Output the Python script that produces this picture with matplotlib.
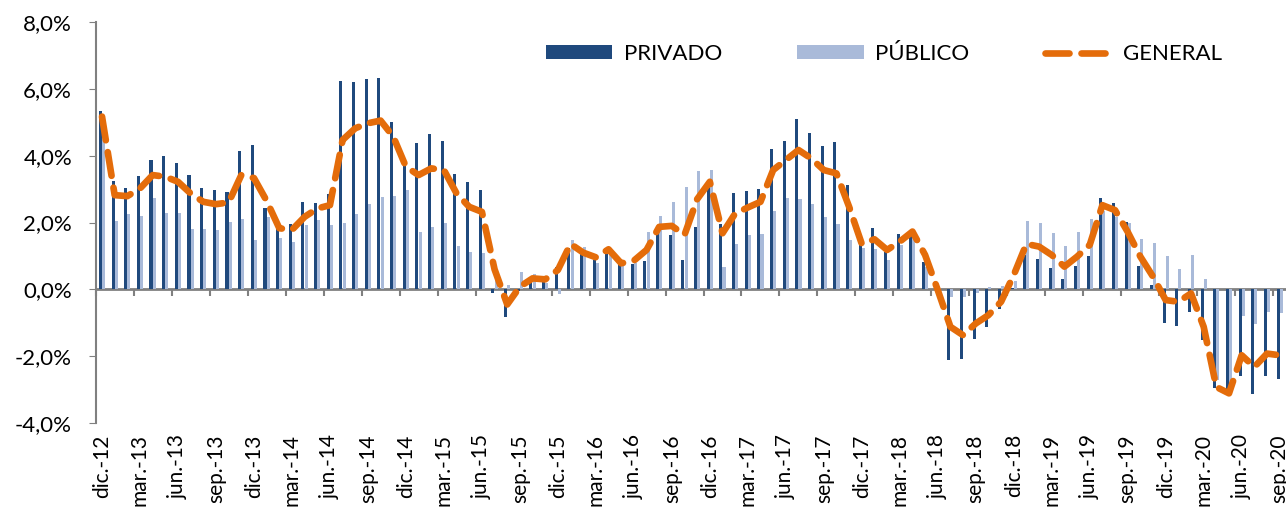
import numpy as np
import matplotlib
matplotlib.use("Agg")
import matplotlib.pyplot as plt
from matplotlib.ticker import FuncFormatter, MultipleLocator

plt.rcParams['font.family'] = ['Lato', 'DejaVu Sans']

# monthly series, dic-12 .. sep-20 (%)
privado = [5.35, 3.24, 3.03, 3.39, 3.87, 3.98, 3.77, 3.42, 3.03, 2.97, 2.91, 4.14,
           4.31, 2.44, 1.95, 1.95, 2.62, 2.57, 2.84, 6.23, 6.20, 6.30, 6.33, 5.02,
           3.72, 4.38, 4.65, 4.44, 3.44, 3.20, 2.98, -0.10, -0.82, -0.05, 0.33, 0.23,
           0.68, 1.23, 1.08, 0.88, 1.23, 0.75, 0.75, 0.85, 1.66, 1.63, 0.88, 1.87,
           3.09, 1.96, 2.89, 2.94, 3.00, 4.19, 4.43, 5.10, 4.67, 4.29, 4.40, 3.12,
           1.36, 1.84, 1.13, 1.65, 1.79, 0.83, 0.00, -2.12, -2.07, -1.47, -1.12, -0.60,
           0.05, 1.02, 0.92, 0.65, 0.30, 0.70, 1.00, 2.72, 2.57, 2.02, 0.70, 0.13,
           -1.00, -1.09, -0.67, -1.52, -2.96, -3.04, -2.60, -3.13, -2.59, -2.69]
publico = [4.70, 2.04, 2.25, 2.21, 2.72, 2.28, 2.28, 1.80, 1.80, 1.77, 2.01, 2.11,
           1.48, 2.17, 1.53, 1.41, 1.93, 2.07, 1.93, 2.00, 2.27, 2.54, 2.77, 2.79,
           2.97, 1.72, 1.87, 2.00, 1.30, 1.12, 1.10, 0.54, 0.13, 0.53, 0.46, 0.20,
           -0.15, 1.48, 1.28, 0.78, 1.06, 0.78, 0.78, 1.71, 2.19, 2.62, 3.05, 3.54,
           3.57, 0.68, 1.36, 1.63, 1.66, 2.34, 2.73, 2.69, 2.54, 2.16, 1.95, 1.48,
           1.23, 1.21, 0.88, 1.33, 1.53, 0.68, 0.05, -0.24, -0.24, -0.10, 0.06, 0.10,
           0.25, 2.05, 2.00, 1.68, 1.30, 1.72, 2.11, 2.35, 2.17, 2.00, 1.50, 1.40,
           1.00, 0.60, 1.03, 0.30, -2.70, -2.80, -0.80, -1.04, -0.67, -0.72]
general = [5.17, 2.82, 2.79, 3.02, 3.42, 3.37, 3.22, 2.87, 2.62, 2.55, 2.60, 3.42,
           3.33, 2.65, 1.83, 1.78, 2.17, 2.42, 2.52, 4.47, 4.82, 4.97, 5.05, 4.57,
           3.67, 3.42, 3.62, 3.57, 2.87, 2.47, 2.32, 0.60, -0.45, 0.08, 0.33, 0.30,
           0.58, 1.36, 1.10, 0.96, 1.20, 0.78, 0.86, 1.18, 1.87, 1.90, 1.63, 2.70,
           3.22, 1.68, 2.27, 2.45, 2.62, 3.57, 3.87, 4.17, 3.92, 3.57, 3.47, 2.47,
           1.36, 1.50, 1.18, 1.43, 1.73, 1.03, -0.02, -1.12, -1.37, -1.02, -0.77, -0.37,
           0.43, 1.36, 1.28, 1.03, 0.68, 0.98, 1.33, 2.52, 2.37, 1.72, 0.98, 0.38,
           -0.32, -0.37, -0.12, -1.12, -2.92, -3.11, -1.97, -2.32, -1.92, -1.97]

meses = ['ene.', 'feb.', 'mar.', 'abr.', 'may.', 'jun.',
         'jul.', 'ago.', 'sep.', 'oct.', 'nov.', 'dic.']
# category labels dic.-12 ... sep.-20
etiquetas = ['dic.-12'] + [f"{m}-{a}" for a in range(13, 21) for m in meses][:93]

c_priv = '#1F497D'
c_pub = '#A9BAD9'
c_gen = '#E46C0A'

x = np.arange(len(privado))
w = 0.24

fig = plt.figure(figsize=(12.86, 5.11), dpi=100)
ax = fig.add_axes([0.0744, 0.172, 0.9256, 0.785])

b1 = ax.bar(x - 0.13, privado, width=w, color=c_priv, label='PRIVADO', zorder=2)
b2 = ax.bar(x + 0.12, publico, width=w, color=c_pub, label='PÚBLICO', zorder=2)
l1, = ax.plot(x, general, color=c_gen, lw=4.8, ls=(0, (3.6, 1.8)),
              dash_capstyle='round', label='GENERAL', zorder=3)

ax.set_xlim(-0.5, len(x) - 0.5)
ax.set_ylim(-4, 8)
ax.yaxis.set_major_locator(MultipleLocator(2))
ax.yaxis.set_major_formatter(FuncFormatter(lambda v, p: f"{v:.1f}%".replace('.', ',')))
ax.tick_params(axis='y', direction='out', length=5, color='#808080',
               labelsize=16, pad=12)

# category labels at the bottom edge
ax.set_xticks(x[::3])
ax.set_xticklabels(etiquetas[::3], rotation=90, fontsize=15)
ax.tick_params(axis='x', length=0, pad=8)

for s in ['top', 'right', 'bottom']:
    ax.spines[s].set_visible(False)
ax.spines['left'].set_color('#808080')
ax.spines['left'].set_linewidth(1.5)

# zero line with the tick marks every 3 months
zero = ax.secondary_xaxis(4 / 12)
zero.set_xticks(np.arange(-0.5, len(x), 3))
zero.set_xticklabels([])
zero.tick_params(direction='out', length=5, color='#808080', width=1.5)
zero.spines['bottom'].set_color('#808080')
zero.spines['bottom'].set_linewidth(2)

ax.legend([b1, b2, l1], ['PRIVADO', 'PÚBLICO', 'GENERAL'],
          loc='center', bbox_to_anchor=(0.662, 0.92), ncol=3, frameon=False,
          fontsize=16, handlelength=3.0, handleheight=0.6,
          handletextpad=0.5, columnspacing=3.4)

fig.savefig('out.png', dpi=100)
